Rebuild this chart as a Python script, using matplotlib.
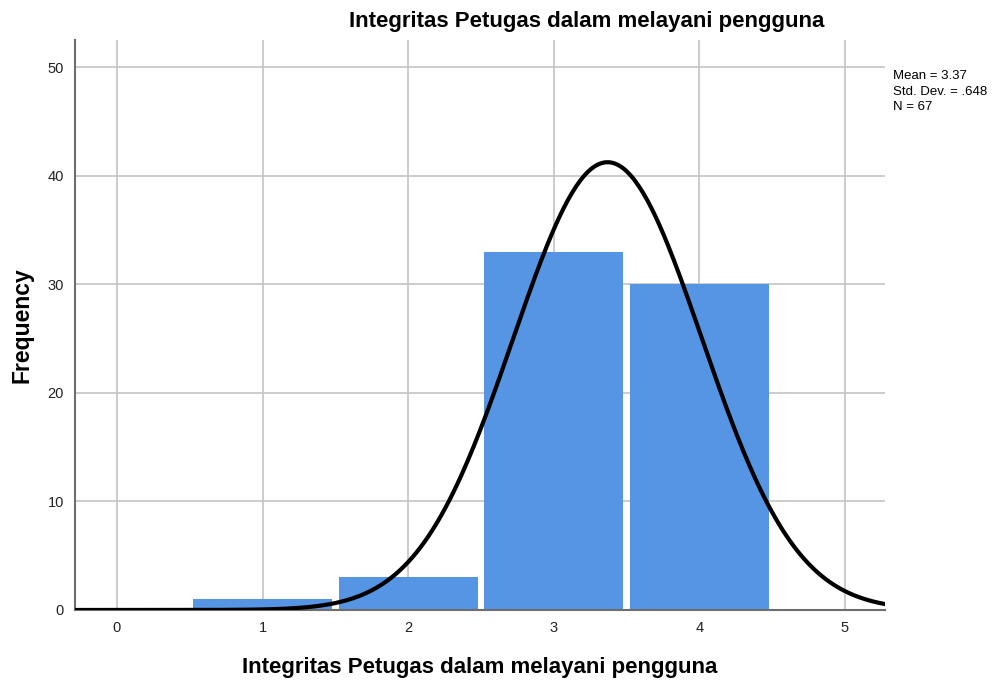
import numpy as np
import matplotlib

matplotlib.use("Agg")
import matplotlib.pyplot as plt

# data
categories = [1, 2, 3, 4]
frequencies = [1, 3, 33, 30]
mean_val = 3.37
std_val = 0.648
n_total = 67

x_ticks = [0, 1, 2, 3, 4, 5]
y_ticks = [0, 10, 20, 30, 40, 50]
title = "Integritas Petugas dalam melayani pengguna"

plt.rcParams["font.family"] = ["Liberation Sans", "DejaVu Sans"]

fig = plt.figure(figsize=(10.06, 6.85), dpi=100)
ax = fig.add_axes([0.0746, 0.1095, 0.805, 0.832])

ax.bar(categories, frequencies, width=0.955, color="#5595E4", edgecolor="none", zorder=2)

# fitted normal curve scaled to counts (bin width 1)
xs = np.linspace(-0.3, 5.3, 400)
ys = n_total / (std_val * np.sqrt(2 * np.pi)) * np.exp(-0.5 * ((xs - mean_val) / std_val) ** 2)
ax.plot(xs, ys, color="black", linewidth=3.0, zorder=3, solid_capstyle="butt")

ax.set_xlim(-0.288, 5.275)
ax.set_ylim(0, 52.5)
ax.set_xticks(x_ticks)
ax.set_yticks(y_ticks)
ax.tick_params(length=0, labelsize=10.5, colors="#222222", pad=8)
ax.grid(True, color="#C4C4C4", linewidth=1.2, zorder=0)
ax.set_axisbelow(True)

for side in ["top", "right"]:
    ax.spines[side].set_visible(False)
for side in ["left", "bottom"]:
    ax.spines[side].set_color("#6E6E6E")
    ax.spines[side].set_linewidth(1.5)

ax.set_xlabel(title, fontsize=16, fontweight="bold", labelpad=16)
ax.set_ylabel("Frequency", fontsize=16.5, fontweight="bold", labelpad=10)

fig.text(587 / 1006, 1 - 22 / 685, title, ha="center", va="center", fontsize=16, fontweight="bold")
fig.text(893 / 1006, 1 - 70 / 685,
         f"Mean = {mean_val:.2f}\nStd. Dev. = .648\nN = {n_total}",
         ha="left", va="top", fontsize=9.5, linespacing=1.4)

fig.savefig("out.png", dpi=100)
